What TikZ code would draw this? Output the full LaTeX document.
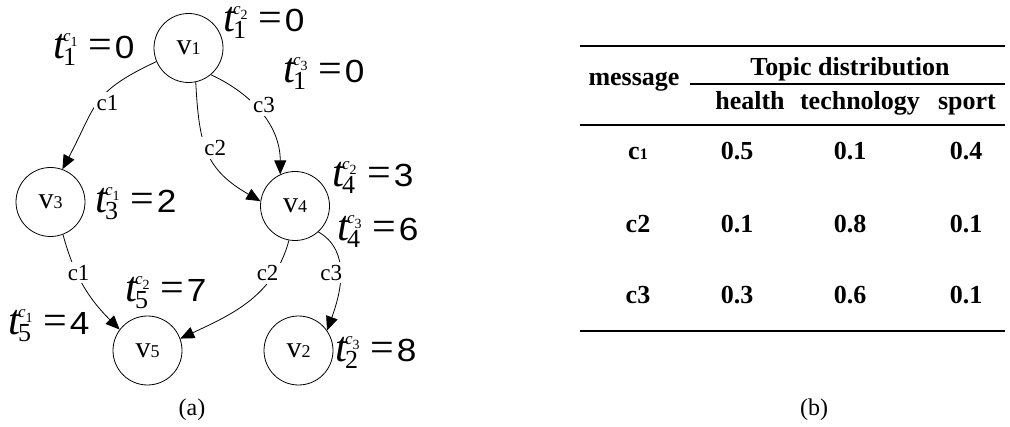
\documentclass[tikz,border=0pt]{standalone}
\usepackage{fontspec}
\setmainfont{Liberation Serif}
\setsansfont{Liberation Sans}
\usetikzlibrary{arrows.meta,positioning}

\newcommand{\vname}[1]{{\fontsize{30}{30}\selectfont v}{\fontsize{18}{18}\selectfont #1}}
% time label: t_{node}^{c_{msg}} = value
\newcommand{\tval}[3]{%
  {\fontsize{43}{43}\selectfont\itshape t}\kern-2pt
  \makebox[0pt][l]{\raisebox{17pt}{\fontsize{17}{17}\selectfont\itshape c\raisebox{-5pt}{\fontsize{14}{14}\selectfont\upshape #2}}}%
  \raisebox{-7pt}{\fontsize{26}{26}\selectfont #1}%
  \hspace{12pt}{\fontsize{42}{42}\selectfont =}\hspace{3pt}%
  \scalebox{1.1}[1]{\fontsize{32}{32}\selectfont\sffamily #3}}

\begin{document}
\begin{tikzpicture}[
  x=1pt, y=1pt,
  vert/.style={draw, circle, line width=0.8pt, minimum size=69pt, inner sep=0pt},
  arr/.style={-{Triangle[length=14pt,width=12pt]}, line width=0.8pt},
  elbl/.style={fill=white, inner sep=3pt, font=\fontsize{23}{23}\selectfont},
  tlab/.style={anchor=base west, inner sep=0pt},
  cell/.style={anchor=base, inner sep=0pt, font=\fontsize{26}{26}\selectfont\bfseries},
  rule/.style={line width=#1}
]
\useasboundingbox (0,0) rectangle (1010,426);

% (a) graph
\node[vert] (v1) at (188.5,378) {\vname{1}};
\node[vert] (v3) at (50.5,224) {\vname{3}};
\node[vert] (v4) at (295,220) {\vname{4}};
\node[vert] (v5) at (147.5,75.5) {\vname{5}};
\node[vert] (v2) at (298.5,75.5) {\vname{2}};

\draw[arr] (v1.203) to[out=205, in=62, looseness=1.3]
  node[elbl, pos=0.5, xshift=10] {c1} (v3.70);
\draw[arr] (v1.-78) to[out=-87, in=150, looseness=1.2]
  node[elbl, pos=0.45, xshift=9] {c2} (v4.172);
\draw[arr] (v1.-50) to[out=-25, in=90]
  node[elbl, pos=0.4, xshift=10] {c3} (v4.115);
\draw[arr] (v3.-69) to[out=-75, in=135]
  node[elbl, pos=0.35, xshift=2] {c1} (v5.143);
\draw[arr] (v4.-100) to[out=-105, in=25]
  node[elbl, pos=0.23, xshift=-7] {c2} (v5.20);
\draw[arr] (v4.-48) to[out=-30, in=70]
  node[elbl, pos=0.48, xshift=-9] {c3} (v2.35);

\node[tlab] (t1a) at (53,367) {\tval{1}{1}{0}};
\node[tlab] (t1b) at (223,394) {\tval{1}{2}{0}};
\node[tlab] (t1c) at (283,343) {\tval{1}{3}{0}};
\node[tlab] (t3a) at (95,213) {\tval{3}{1}{2}};
\node[tlab] (t4b) at (332,239) {\tval{4}{2}{3}};
\node[tlab] (t4c) at (337,185) {\tval{4}{3}{6}};
\node[tlab] (t5b) at (125,124) {\tval{5}{2}{7}};
\node[tlab] (t5a) at (8,91) {\tval{5}{1}{4}};
\node[tlab] (t2c) at (335,64) {\tval{2}{3}{8}};

\node[font=\fontsize{24}{24}\selectfont] (capa) at (192,16) {(a)};

% (b) table
\draw[rule=2pt] (580,380) -- (1005,380);
\draw[rule=1.2pt] (690,342) -- (1005,342);
\draw[rule=1.6pt] (580,301) -- (1005,301);
\draw[rule=2pt] (580,95) -- (1005,95);

\node[cell] (hmsg) at (634,340) {message};
\node[cell] (htopic) at (850,350) {Topic distribution};
\node[cell] (hhealth) at (750,316) {health};
\node[cell] (htech) at (860,316) {technology};
\node[cell] (hsport) at (967,316) {sport};

\foreach \msg/\ph/\pt/\ps/\yy [count=\i] in
  {{c{\fontsize{16}{16}\selectfont 1}}/0.5/0.1/0.4/266,
   c2/0.1/0.8/0.1/193,
   c3/0.3/0.6/0.1/122} {
  \node[cell] (m\i) at (638,\yy) {\msg};
  \node[cell] (ph\i) at (737,\yy) {\ph};
  \node[cell] (pt\i) at (850,\yy) {\pt};
  \node[cell] (ps\i) at (966,\yy) {\ps};
}

\node[font=\fontsize{24}{24}\selectfont] (capb) at (814,16) {(b)};
\end{tikzpicture}
\end{document}
